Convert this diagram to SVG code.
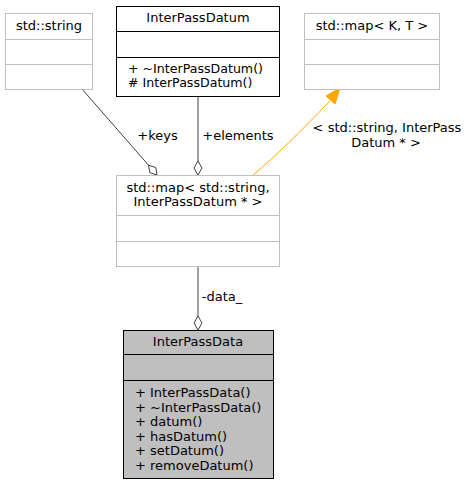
<svg xmlns="http://www.w3.org/2000/svg" width="467" height="485" viewBox="0 0 467 485">
<style>
text{font-family:"DejaVu Sans",sans-serif;font-size:13px;fill:#000}
.m{text-anchor:middle}
.s{font-size:12.6px}
.box{fill:#fff;stroke:#bfbfbf;stroke-width:1}
.div{stroke:#bfbfbf;stroke-width:1}
.bk{fill:#fff;stroke:#000;stroke-width:1}
.bkd{stroke:#000;stroke-width:1}
.cur{fill:#bfbfbf;stroke:#000;stroke-width:1}
.edge{fill:none;stroke:#404040;stroke-width:1}
.dia{fill:#fff;stroke:#404040;stroke-width:1}
.inh{fill:none;stroke:#ffa500;stroke-width:1}
</style>
<rect width="467" height="485" fill="#fff"/>
<g id="connectors">
<path class="edge" d="M82,89 L148.5,165.2"/>
<polygon class="dia" points="157,175 155.8,167.5 148.5,165.2 149.8,172.7"/>
<text x="157.5" y="139.5" class="m">+keys</text>
<path class="edge" d="M198,97 L198,161"/>
<polygon class="dia" points="198,175 202,168 198,161 194,168"/>
<text x="238" y="139.5" class="m">+elements</text>
<path class="inh" d="M253,175 C275,157 300,132 330,101"/>
<polygon points="340,88 326,96 335,104" fill="#ffa500" stroke="#ffa500"/>
<text x="387" y="132" class="m">&lt; std::string, InterPass</text>
<text x="386" y="147" class="m">Datum * &gt;</text>
<path class="edge" d="M198,266 L198,316"/>
<polygon class="dia" points="198,330 202,323 198,316 194,323"/>
<text x="222" y="301" class="m">-data_</text>
</g>
<g id="std_string">
<rect class="box" x="5.5" y="13.5" width="87" height="76"/>
<line class="div" x1="5.5" y1="39.5" x2="92.5" y2="39.5"/>
<line class="div" x1="5.5" y1="64.5" x2="92.5" y2="64.5"/>
<text x="49" y="29.5" class="m">std::string</text>
</g>
<g id="InterPassDatum">
<rect class="bk" x="116.5" y="6.5" width="163" height="90"/>
<line class="bkd" x1="116.5" y1="31.5" x2="279.5" y2="31.5"/>
<line class="bkd" x1="116.5" y1="57.5" x2="279.5" y2="57.5"/>
<text x="198" y="22" class="m">InterPassDatum</text>
<text x="128" y="73" class="s">+ ~InterPassDatum()</text>
<text x="128" y="86.5" class="s"># InterPassDatum()</text>
</g>
<g id="std_map_KT">
<rect class="box" x="304.5" y="13.5" width="135" height="76"/>
<line class="div" x1="304.5" y1="39.5" x2="439.5" y2="39.5"/>
<line class="div" x1="304.5" y1="64.5" x2="439.5" y2="64.5"/>
<text x="372" y="29.5" class="m">std::map&lt; K, T &gt;</text>
</g>
<g id="std_map_string_datum">
<rect class="box" x="116.5" y="175.5" width="163" height="91"/>
<line class="div" x1="116.5" y1="215.5" x2="279.5" y2="215.5"/>
<line class="div" x1="116.5" y1="241.5" x2="279.5" y2="241.5"/>
<text x="198" y="191.5" class="m">std::map&lt; std::string,</text>
<text x="198" y="206" class="m">InterPassDatum * &gt;</text>
</g>
<g id="InterPassData">
<rect class="cur" x="123.5" y="330.5" width="150" height="148"/>
<line class="bkd" x1="123.5" y1="354.5" x2="273.5" y2="354.5"/>
<line class="bkd" x1="123.5" y1="380.5" x2="273.5" y2="380.5"/>
<text x="198" y="346" class="m">InterPassData</text>
<text x="135" y="397">+ InterPassData()</text>
<text x="135" y="411.5">+ ~InterPassData()</text>
<text x="135" y="426">+ datum()</text>
<text x="135" y="440.5">+ hasDatum()</text>
<text x="135" y="455">+ setDatum()</text>
<text x="135" y="469.5">+ removeDatum()</text>
</g>
</svg>
